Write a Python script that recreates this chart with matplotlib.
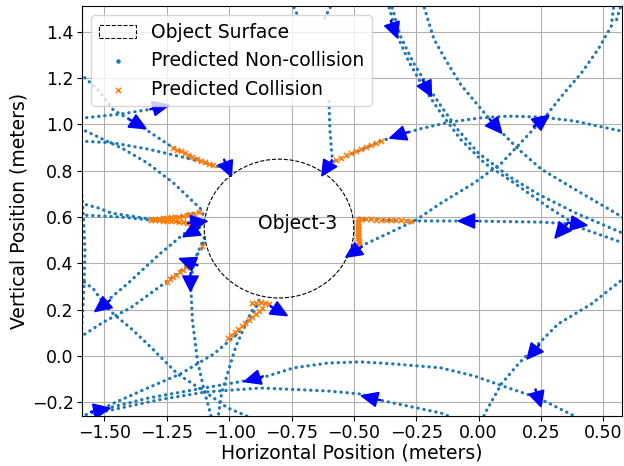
import numpy as np
import matplotlib
matplotlib.use("Agg")
import matplotlib.pyplot as plt
from matplotlib.patches import Circle

# object
obj_center = (-0.80, 0.55)
obj_radius = 0.30

# predicted trajectories, (x, y) in meters
path_a = [(-1.62, 1.23), (-1.596, 1.218), (-1.528, 1.153), (-1.464, 1.062), (-1.367, 1.002),
          (-1.235, 0.907), (-1.163, 0.868), (-1.074, 0.825), (-1.006, 0.812)]
path_b = [(-1.62, 1.024), (-1.436, 1.045), (-1.283, 1.071)]
path_c = [(-1.62, 0.995), (-1.516, 0.941), (-1.424, 0.894), (-1.327, 0.833), (-1.223, 0.747),
          (-1.114, 0.635), (-1.104, 0.61)]
path_d = [(-1.62, 0.93), (-1.464, 0.920), (-1.327, 0.894), (-1.155, 0.851), (-1.022, 0.812)]
path_e = [(-1.62, 0.667), (-1.524, 0.639), (-1.472, 0.617), (-1.315, 0.591), (-1.219, 0.600),
          (-1.122, 0.620), (-1.105, 0.625)]
path_f = [(-1.62, 0.61), (-1.436, 0.600), (-1.315, 0.587), (-1.219, 0.581), (-1.127, 0.570),
          (-1.105, 0.57)]
path_g = [(-1.592, 0.72), (-1.584, 0.60), (-1.578, 0.45), (-1.582, 0.30), (-1.592, 0.10), (-1.60, 0.0)]
path_h = [(-1.62, 0.35), (-1.544, 0.289), (-1.504, 0.228), (-1.464, 0.181), (-1.396, 0.121),
          (-1.327, 0.051), (-1.207, -0.078), (-1.102, -0.152), (-1.006, -0.225), (-0.94, -0.255),
          (-0.90, -0.275)]
path_i = [(-1.115, 0.565), (-1.167, 0.540), (-1.283, 0.436), (-1.404, 0.315), (-1.49, 0.237)]
path_j = [(-1.62, 0.065), (-1.504, 0.146), (-1.396, 0.207), (-1.263, 0.311), (-1.199, 0.362),
          (-1.147, 0.406), (-1.110, 0.466), (-1.100, 0.50)]
path_k = [(-1.100, 0.51), (-1.135, 0.423), (-1.155, 0.328), (-1.147, 0.151), (-1.127, -0.022),
          (-1.100, -0.150), (-1.07, -0.27)]
path_l = [(-1.62, -0.27), (-1.516, -0.234), (-1.464, -0.205), (-1.327, -0.139), (-1.195, -0.078),
          (-1.062, 0.008), (-0.966, 0.095), (-0.910, 0.170), (-0.886, 0.224), (-0.85, 0.235)]
path_m = [(-0.88, 0.24), (-0.914, 0.185), (-0.974, 0.038), (-1.030, -0.160), (-1.045, -0.27)]
arc_a = [(-1.516, -0.234), (-1.323, -0.182), (-1.122, -0.143), (-0.873, -0.096), (-0.741, -0.052),
         (-0.604, -0.031), (-0.472, -0.026), (-0.339, -0.035), (-0.151, -0.052), (-0.018, -0.087),
         (0.120, -0.139), (0.239, -0.182), (0.384, -0.26), (0.40, -0.27)]
line_b = [(-1.54, -0.25), (-1.287, -0.191), (-1.094, -0.156), (-0.873, -0.139), (-0.604, -0.152),
          (-0.472, -0.165), (-0.420, -0.186), (-0.151, -0.247), (-0.10, -0.27)]
path_n = [(0.60, 0.35), (0.452, 0.224), (0.319, 0.138), (0.239, 0.051), (0.159, -0.035),
          (0.092, -0.121), (0.024, -0.251), (0.018, -0.27)]
path_u1a = [(-0.365, 1.53), (-0.327, 1.386), (-0.279, 1.270), (-0.219, 1.157), (-0.151, 1.049),
            (-0.070, 0.933), (0.024, 0.833), (0.143, 0.747), (0.279, 0.643), (0.412, 0.552), (0.60, 0.48)]
path_u1b = [(-0.353, 1.53), (-0.315, 1.386), (-0.263, 1.270), (-0.199, 1.157), (-0.151, 1.080),
            (-0.082, 0.976), (0.0, 0.876), (0.120, 0.777), (0.239, 0.699), (0.384, 0.62), (0.60, 0.52)]
path_u2 = [(-0.225, 1.53), (-0.179, 1.369), (-0.127, 1.270), (-0.070, 1.170), (0.024, 1.049),
           (0.080, 0.980), (0.159, 0.894), (0.251, 0.807), (0.384, 0.721), (0.60, 0.585)]
arc_u3 = [(0.60, 0.965), (0.384, 1.015), (0.251, 1.032), (0.120, 1.036), (0.004, 1.028),
          (-0.118, 1.010), (-0.239, 0.980), (-0.319, 0.954), (-0.392, 0.928), (-0.584, 0.838)]
path_u4 = [(0.544, 1.53), (0.532, 1.425), (0.480, 1.326), (0.412, 1.222), (0.343, 1.136),
           (0.279, 1.049), (0.251, 1.015), (0.183, 0.937), (0.092, 0.833), (-0.018, 0.747),
           (-0.151, 0.660), (-0.251, 0.587), (-0.359, 0.531), (-0.480, 0.470)]
path_u5 = [(-0.600, 1.10), (-0.596, 0.976), (-0.588, 0.868), (-0.584, 0.838)]
stub_1 = [(-0.75, 1.53), (-0.721, 1.46)]
stub_2 = [(-0.583, 1.53), (-0.617, 1.46)]
stub_3 = [(0.575, 1.53), (0.548, 1.434)]
path_h2 = [(0.396, 0.570), (0.239, 0.578), (-0.042, 0.583), (-0.259, 0.583), (-0.472, 0.591),
           (-0.484, 0.596)]

paths = [path_a, path_b, path_c, path_d, path_e, path_f, path_g, path_h, path_i, path_j,
         path_k, path_l, path_m, arc_a, line_b, path_n, path_u1a, path_u1b, path_u2, arc_u3,
         path_u4, path_u5, stub_1, stub_2, stub_3, path_h2]

# predicted collision points
coll_a = [(-1.227, 0.898), (-1.211, 0.891), (-1.195, 0.884), (-1.179, 0.876), (-1.163, 0.868),
          (-1.147, 0.860), (-1.130, 0.851), (-1.114, 0.843), (-1.098, 0.836), (-1.082, 0.830),
          (-1.066, 0.825)]
coll_e = [(-1.315, 0.591), (-1.299, 0.592), (-1.283, 0.593), (-1.267, 0.594), (-1.251, 0.596),
          (-1.235, 0.598), (-1.219, 0.600), (-1.203, 0.602), (-1.187, 0.605), (-1.171, 0.608),
          (-1.155, 0.611), (-1.139, 0.615), (-1.122, 0.620)]
coll_f = [(-1.315, 0.587), (-1.299, 0.586), (-1.283, 0.585), (-1.267, 0.584), (-1.251, 0.583),
          (-1.235, 0.582), (-1.219, 0.581), (-1.203, 0.579), (-1.187, 0.578), (-1.171, 0.576),
          (-1.155, 0.574), (-1.139, 0.572), (-1.127, 0.570)]
coll_j = [(-1.251, 0.319), (-1.238, 0.330), (-1.225, 0.340), (-1.212, 0.351), (-1.199, 0.362),
          (-1.186, 0.373), (-1.173, 0.384), (-1.160, 0.395), (-1.147, 0.406), (-1.110, 0.475)]
coll_l = [(-1.006, 0.077), (-0.992, 0.090), (-0.978, 0.103), (-0.964, 0.116), (-0.950, 0.129),
          (-0.936, 0.142), (-0.922, 0.155), (-0.908, 0.168), (-0.894, 0.181), (-0.880, 0.194),
          (-0.868, 0.207), (-0.910, 0.228), (-0.892, 0.230), (-0.874, 0.232), (-0.856, 0.230),
          (-0.840, 0.222)]
coll_u3 = [(-0.392, 0.928), (-0.412, 0.920), (-0.432, 0.911), (-0.452, 0.902), (-0.472, 0.894),
           (-0.492, 0.885), (-0.512, 0.876), (-0.532, 0.866), (-0.552, 0.856), (-0.572, 0.846)]
coll_h2 = [(-0.271, 0.583), (-0.291, 0.583), (-0.311, 0.585), (-0.331, 0.585), (-0.351, 0.587),
           (-0.371, 0.587), (-0.391, 0.589), (-0.411, 0.589), (-0.431, 0.591), (-0.451, 0.591),
           (-0.472, 0.591)]
coll_v = [(-0.484, 0.590), (-0.484, 0.580), (-0.484, 0.570), (-0.483, 0.560), (-0.483, 0.550),
          (-0.483, 0.540), (-0.482, 0.530), (-0.482, 0.520), (-0.482, 0.510), (-0.481, 0.500),
          (-0.481, 0.490), (-0.480, 0.480)]
collisions = [coll_a, coll_e, coll_f, coll_j, coll_l, coll_u3, coll_h2, coll_v]

# heading arrows: position and direction
arrow_pos = [(-1.367, 1.002), (-1.279, 1.075), (-1.006, 0.812), (-0.608, 0.812), (-0.319, 0.954),
             (-0.339, 1.412), (-0.207, 1.157), (0.068, 0.993), (0.251, 1.015), (-1.127, 0.578),
             (-1.151, 0.535), (-1.163, 0.406), (-1.155, 0.319), (-1.508, 0.216), (-0.801, 0.194),
             (-0.500, 0.449), (-0.042, 0.583), (0.396, 0.570), (0.331, 0.540), (0.219, 0.017),
             (0.239, -0.182), (-0.432, -0.182), (-0.902, -0.100), (-1.516, -0.234)]
arrow_dir = [(1, -0.6), (1, 0.25), (0.4, -1), (-0.6, -1), (-1, -0.35),
             (0.35, -1), (0.5, -1), (0.8, -1), (1, 0.8), (1, 0.1),
             (-1, -0.6), (-1, 0.4), (0, -1), (-1, -0.8), (1, -0.6),
             (-1, -0.7), (-1, 0), (1, -0.15), (-0.8, -1), (-0.8, -1),
             (0.3, -1), (-1, 0.25), (-1, -0.3), (1, 0.2)]

fig = plt.figure(figsize=(6.24, 4.66), dpi=100)
ax = fig.add_axes([0.1314, 0.1073, 0.8654, 0.8798])

for p in paths:
    p = np.array(p)
    ax.plot(p[:, 0], p[:, 1], color='C0', lw=2.3, linestyle=(0, (0.1, 1.8)),
            dash_capstyle='round', zorder=2)

for c in collisions:
    c = np.array(c)
    ax.scatter(c[:, 0], c[:, 1], marker='x', s=14, color='C1', linewidths=1.1, zorder=3)

for (x, y), (ux, uy) in zip(arrow_pos, arrow_dir):
    n = np.hypot(ux, uy)
    ux, uy = ux / n, uy / n
    L = 0.08
    ax.arrow(x - 0.5 * L * ux, y - 0.5 * L * uy, L * ux, L * uy, width=0.004,
             head_width=0.062, head_length=0.066, length_includes_head=True,
             color='blue', zorder=4)

circ = Circle(obj_center, obj_radius, fill=False, ls='--', lw=0.8, ec='black',
              label='Object Surface', zorder=3)
ax.add_patch(circ)
ax.text(-0.725, 0.57, 'Object-3', fontsize=13.5, ha='center', va='center')

h_nc = ax.scatter([], [], marker='.', s=20, color='C0', label='Predicted Non-collision')
h_c = ax.scatter([], [], marker='x', s=14, color='C1', linewidths=1.1, label='Predicted Collision')
ax.legend(handles=[circ, h_nc, h_c], loc='upper left', fontsize=13.5)

ax.set_xlim(-1.59, 0.575)
ax.set_ylim(-0.26, 1.512)
ax.set_xticks([-1.5, -1.25, -1.0, -0.75, -0.5, -0.25, 0.0, 0.25, 0.5])
ax.set_yticks([-0.2, 0.0, 0.2, 0.4, 0.6, 0.8, 1.0, 1.2, 1.4])
ax.tick_params(labelsize=12.5, pad=2.5)
ax.grid(True)
ax.set_xlabel('Horizontal Position (meters)', fontsize=13.5, labelpad=1)
ax.set_ylabel('Vertical Position (meters)', fontsize=13.5, labelpad=2)

fig.savefig('out.png', dpi=100)
